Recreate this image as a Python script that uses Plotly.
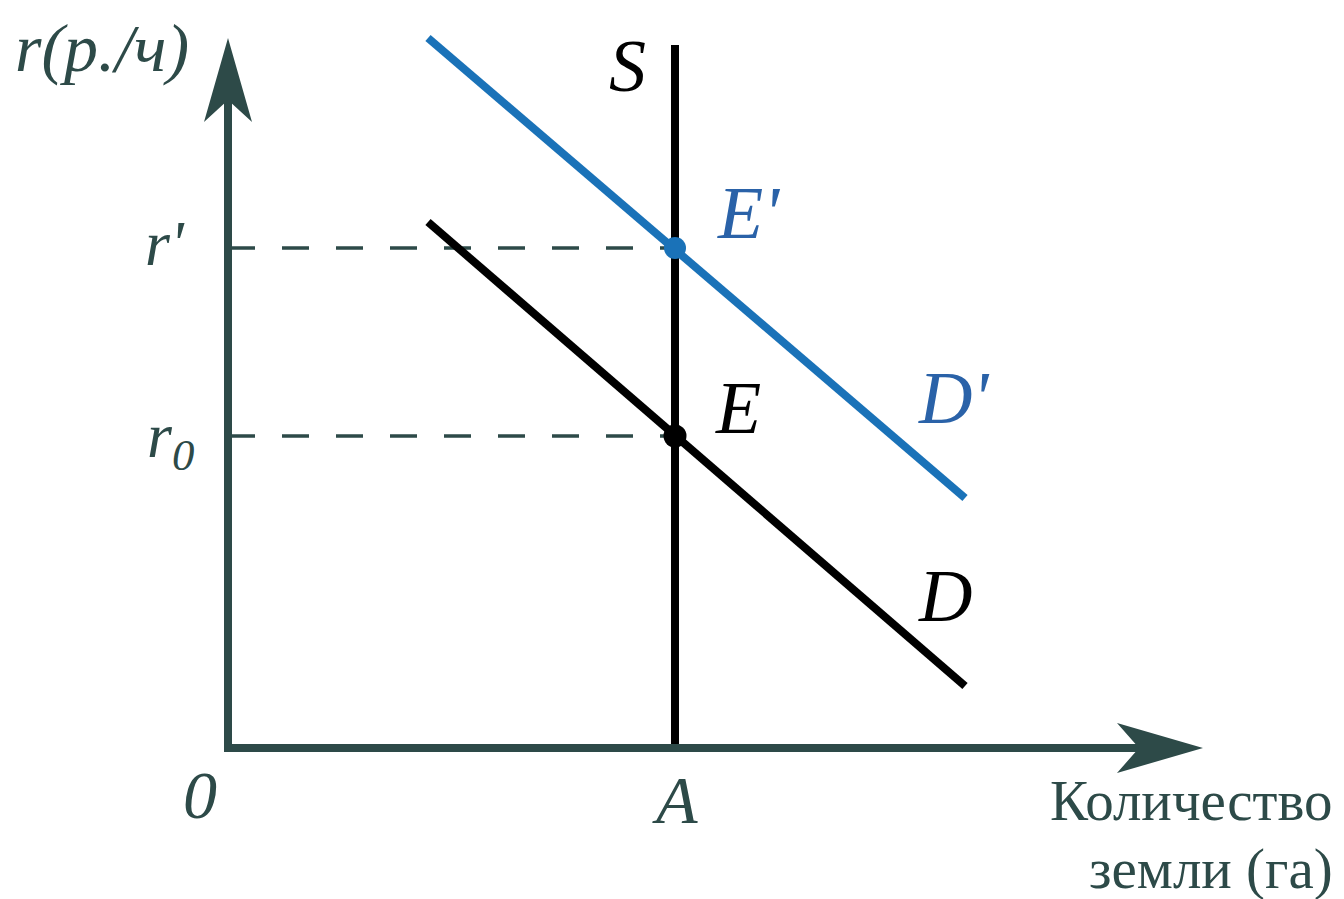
import plotly.graph_objects as go

# economic values (1 unit = 100 px, origin at axis corner)
q_A = 4.47
r_0 = 3.12
r_new = 5.0
d_x = [2.0, 7.37]
d_y = [5.26, 0.62]
d2_x = [2.0, 7.37]
d2_y = [7.1, 2.5]
s_top = 7.03

AXIS = "#2d4a48"
BLUE = "#1a72b8"
BLUE_TXT = "#2a62a8"
FONT = "Liberation Serif"

fig = go.Figure()

# dashed guides
for yv in [r_new, r_0]:
    fig.add_trace(go.Scatter(x=[0, q_A], y=[yv, yv], mode="lines",
                             line=dict(color=AXIS, width=3.5, dash="27px,27px")))

# supply S
fig.add_trace(go.Scatter(x=[q_A, q_A], y=[0, s_top], mode="lines",
                         line=dict(color="black", width=8)))
# demand D
fig.add_trace(go.Scatter(x=d_x, y=d_y, mode="lines",
                         line=dict(color="black", width=8)))
# demand D'
fig.add_trace(go.Scatter(x=d2_x, y=d2_y, mode="lines",
                         line=dict(color=BLUE, width=8)))
# equilibrium points
fig.add_trace(go.Scatter(x=[q_A], y=[r_new], mode="markers",
                         marker=dict(color=BLUE, size=22)))
fig.add_trace(go.Scatter(x=[q_A], y=[r_0], mode="markers",
                         marker=dict(color="black", size=23)))

# axes with arrowheads
x_tip, y_tip = 9.75, 7.1
fig.add_trace(go.Scatter(x=[0, x_tip - 0.6], y=[0, 0], mode="lines",
                         line=dict(color=AXIS, width=8)))
fig.add_trace(go.Scatter(x=[0, 0], y=[-0.04, y_tip - 0.6], mode="lines",
                         line=dict(color=AXIS, width=8)))
shapes = [
    dict(type="path", xref="x", yref="y", line=dict(width=0), fillcolor=AXIS,
         path=f"M {x_tip},0 L {x_tip-0.86},0.25 L {x_tip-0.64},0 L {x_tip-0.86},-0.25 Z"),
    dict(type="path", xref="x", yref="y", line=dict(width=0), fillcolor=AXIS,
         path=f"M 0,{y_tip} L 0.24,{y_tip-0.84} L 0,{y_tip-0.62} L -0.24,{y_tip-0.84} Z"),
]

def lab(x, y, text, color, size, italic=True, **kw):
    d = dict(x=x, y=y, xref="x", yref="y",
             text=f"<i>{text}</i>" if italic else text, showarrow=False,
             font=dict(family=FONT, size=size, color=color),
             xanchor="center", yanchor="middle")
    d.update(kw)
    return d

annotations = [
    lab(-1.26, 7.0, "r(р./ч)", AXIS, 68),
    lab(3.99, 6.82, "S", "black", 74),
    lab(5.2, 5.35, "E'", BLUE_TXT, 74),
    lab(5.1, 3.4, "E", "black", 74),
    lab(7.25, 3.5, "D'", BLUE_TXT, 74),
    lab(7.17, 1.52, "D", "black", 74),
    lab(-0.63, 5.05, "r'", AXIS, 64),
    lab(-0.58, 3.08, "r<sub>0</sub>", AXIS, 64),
    lab(-0.28, -0.47, "0", AXIS, 68),
    lab(q_A, -0.52, "A", AXIS, 68),
    lab(11.07, -0.52, "Количество", AXIS, 57, italic=False, xanchor="right"),
    lab(11.07, -1.21, "земли (га)", AXIS, 57, italic=False, xanchor="right"),
]

# page body has an 8px margin, so the figure is 8px smaller and shifted
fig.update_layout(
    width=1336, height=891,
    margin=dict(l=0, r=0, t=0, b=0),
    paper_bgcolor="white", plot_bgcolor="white",
    showlegend=False,
    xaxis=dict(range=[-2.20, 11.16], visible=False, fixedrange=True),
    yaxis=dict(range=[-1.51, 7.40], visible=False, fixedrange=True),
    shapes=shapes,
    annotations=annotations,
)

fig.write_html("out.html")
